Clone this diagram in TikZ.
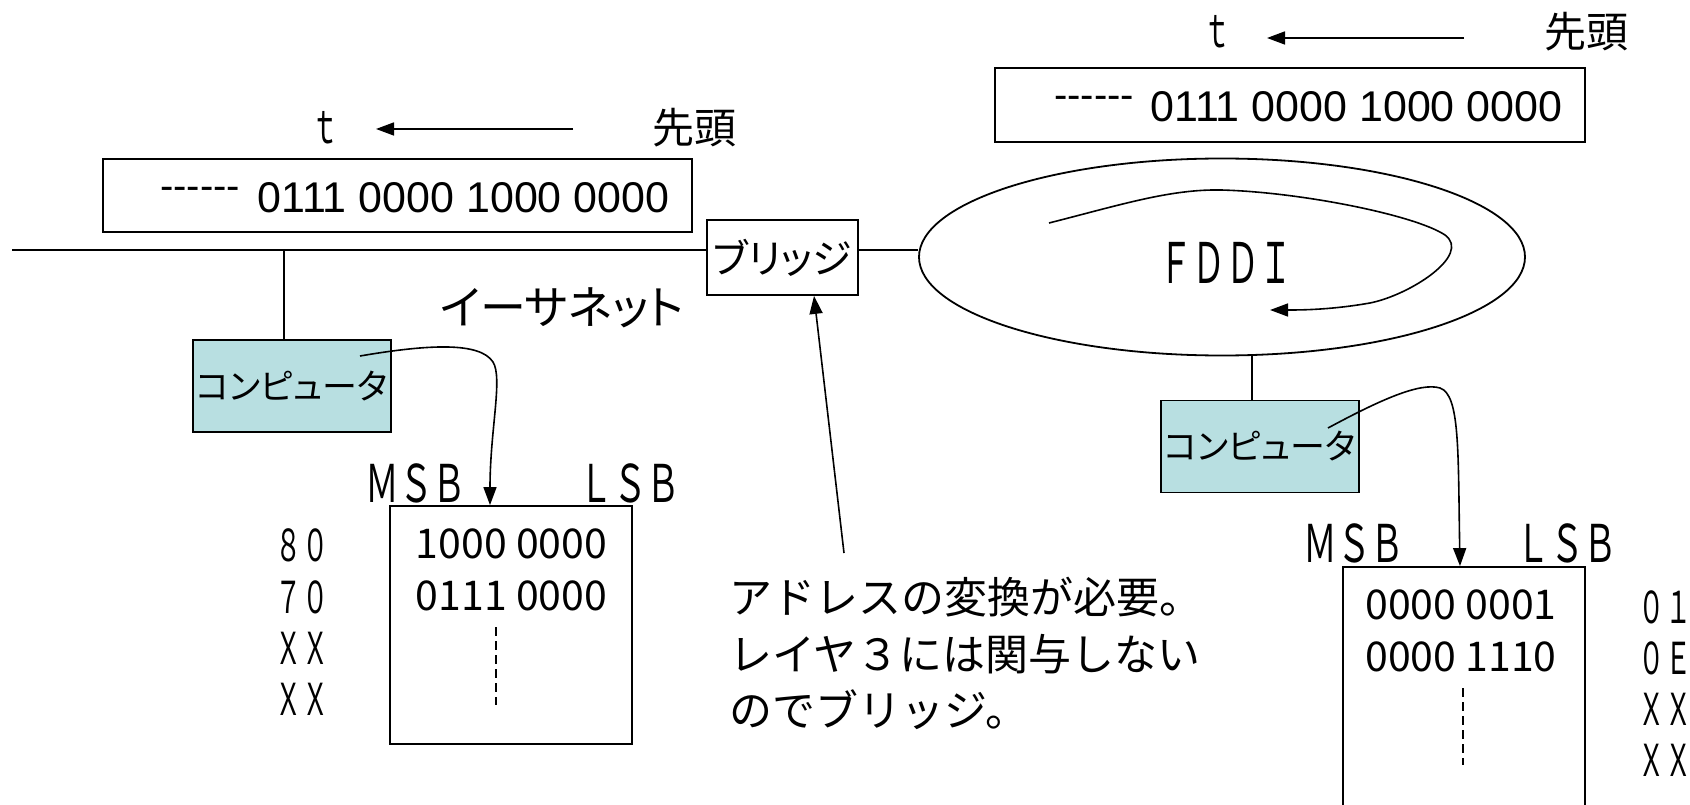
\documentclass[tikz,border=0pt]{standalone}
\usepackage{fontspec}
\usepackage{graphicx}
\setmainfont{Liberation Sans}
\newfontfamily\jp{Noto Sans CJK JP}
\newfontfamily\jpp{Noto Sans CJK JP}[RawFeature=+palt]
\usetikzlibrary{arrows.meta,shapes.geometric}
\definecolor{compfill}{RGB}{184,223,225}
\newcommand\fs[1]{\fontsize{#1}{#1}\selectfont}
\newcommand\narrow[2]{\scalebox{#1}[1]{#2}}
\newcommand\sixdash{-\kern0pt-\kern0pt-\kern0pt-\kern0pt-\kern0pt-}
\begin{document}
\begin{tikzpicture}[x=1pt,y=-1pt,
  box/.style={draw, line width=1.8pt, inner sep=0},
  comp/.style={box, fill=compfill, minimum width=198, minimum height=92},
  ln/.style={line width=1.6pt},
  arr/.style={line width=1.6pt, -{Triangle[length=18pt,width=13pt]}},
  txt/.style={inner sep=0, anchor=center},
  dashv/.style={line width=1.6pt, dash pattern=on 9pt off 5pt}]
\useasboundingbox (0,0) rectangle (1690,805);

% ---------- left (Ethernet) side ----------
\node[txt, font=\jp\fs{46}] (tL) at (325,128) {\narrow{0.6}{ｔ}};
\coordinate (aLs) at (573,129);
\coordinate (aLe) at (376,129);
\draw[arr] (aLs) -- (aLe);
\node[txt, font=\jp\fs{42}] (headL) at (694,128) {先頭};

\node[box, minimum width=589, minimum height=73] (frameL) at (397.5,195.5) {};
\node[txt, font=\fs{40}, anchor=base] (dashL) at (200,200) {\sixdash};
\node[txt, font=\fs{43}] (bitsL) at (463.5,198) {0111 0000 1000 0000};

\node[box, minimum width=151, minimum height=75, font=\jpp\fs{40}] (bridge) at (782.5,257.5) {ブリッジ};

\node[draw, ellipse, line width=1.8pt, minimum width=606, minimum height=197, inner sep=0] (fddi) at (1222,257) {};

\coordinate (ethL) at (12,250);
\draw[ln] (ethL) -- (ethL -| bridge.west);
\draw[ln] (ethL -| bridge.east) -- (ethL -| fddi.west);

\node[txt, font=\jpp\fs{46}] (ether) at (562,308) {イーサネット};

\node[comp, font=\jpp\fs{35}] (compL) at (292,386) {コンピュータ};
\coordinate (dL) at (284,0);
\draw[ln] (dL |- ethL) -- (dL |- compL.north);

\node[box, minimum width=242, minimum height=238] (memL) at (511,625) {};
\node[txt, font=\jp\fs{41}] (mL1) at (511.5,544) {1000 0000};
\node[txt, font=\jp\fs{41}] (mL2) at (511.5,596) {0111 0000};
\coordinate (vL1) at (496,627);
\coordinate (vL2) at (496,705);
\draw[dashv] (vL1) -- (vL2);

\node[txt, font=\jp\fs{52}] (msbL) at (416,483) {\narrow{0.65}{ＭＳＢ}};
\node[txt, font=\jp\fs{52}] (lsbL) at (630,483) {\narrow{0.65}{ＬＳＢ}};

\node[txt, font=\jp\fs{44}] (hL1) at (302,545) {\narrow{0.6}{８０}};
\node[txt, font=\jp\fs{44}] (hL2) at (302,597) {\narrow{0.6}{７０}};
\node[txt, font=\jp\fs{44}] (hL3) at (302,648) {\narrow{0.6}{ＸＸ}};
\node[txt, font=\jp\fs{44}] (hL4) at (302,699) {\narrow{0.6}{ＸＸ}};

\coordinate (cLs) at (360,356);
\coordinate (cLe) at (490,0);
\draw[arr] (cLs) .. controls (430,344) and (480,342) .. (493,362)
  .. controls (503,378) and (490,430) .. (cLe |- memL.north);

% ---------- right (FDDI) side ----------
\node[txt, font=\jp\fs{46}] (tR) at (1217,32) {\narrow{0.6}{ｔ}};
\coordinate (aRs) at (1464,38);
\coordinate (aRe) at (1267,38);
\draw[arr] (aRs) -- (aRe);
\node[txt, font=\jp\fs{42}] (headR) at (1586,32) {先頭};

\node[box, minimum width=590, minimum height=74] (frameR) at (1290,105) {};
\node[txt, font=\fs{40}, anchor=base] (dashR) at (1094,109) {\sixdash};
\node[txt, font=\fs{43}] (bitsR) at (1356.5,107) {0111 0000 1000 0000};

\node[txt, font=\jp\fs{56}] (fddiT) at (1226,263) {\narrow{0.59}{ＦＤＤＩ}};
\coordinate (rS) at (1049,223);
\coordinate (rE) at (1270,310);
\draw[arr] (rS) .. controls (1120,205) and (1170,189) .. (1221,190)
  .. controls (1300,192) and (1415,215) .. (1445,235)
  .. controls (1472,255) and (1410,295) .. (1370,303)
  .. controls (1330,310) and (1300,310) .. (rE);

\node[comp, font=\jpp\fs{35}] (compR) at (1260,446.5) {コンピュータ};
\coordinate (dR) at (1252,0);
\draw[ln] (dR |- fddi.south) -- (dR |- compR.north);

\node[box, minimum width=242, minimum height=248] (memR) at (1464,691) {};
\node[txt, font=\jp\fs{41}] (mR1) at (1461,605) {0000 0001};
\node[txt, font=\jp\fs{41}] (mR2) at (1461,657) {0000 1110};
\coordinate (vR1) at (1463,688);
\coordinate (vR2) at (1463,765);
\draw[dashv] (vR1) -- (vR2);

\node[txt, font=\jp\fs{52}] (msbR) at (1354,543) {\narrow{0.65}{ＭＳＢ}};
\node[txt, font=\jp\fs{52}] (lsbR) at (1567,543) {\narrow{0.65}{ＬＳＢ}};

\node[txt, font=\jp\fs{44}] (hR1) at (1665,607) {\narrow{0.6}{０１}};
\node[txt, font=\jp\fs{44}] (hR2) at (1665,658) {\narrow{0.6}{０Ｅ}};
\node[txt, font=\jp\fs{44}] (hR3) at (1665,709) {\narrow{0.6}{ＸＸ}};
\node[txt, font=\jp\fs{44}] (hR4) at (1665,760) {\narrow{0.6}{ＸＸ}};

\coordinate (cRs) at (1328,428);
\coordinate (cRe) at (1460,0);
\draw[arr] (cRs) .. controls (1380,400) and (1420,382) .. (1440,388)
  .. controls (1460,395) and (1458,450) .. (cRe |- memR.north);

% ---------- note ----------
\node[txt, anchor=west, align=left, font=\jp\fontsize{43}{56.5}\selectfont] (note) at (729,653.5)
  {アドレスの変換が必要。\\レイヤ３には関与しない\\のでブリッジ。};
\coordinate (nT) at (844,553);
\coordinate (bT) at (814,0);
\draw[arr] (nT) -- (bT |- bridge.south);
\end{tikzpicture}
\end{document}
